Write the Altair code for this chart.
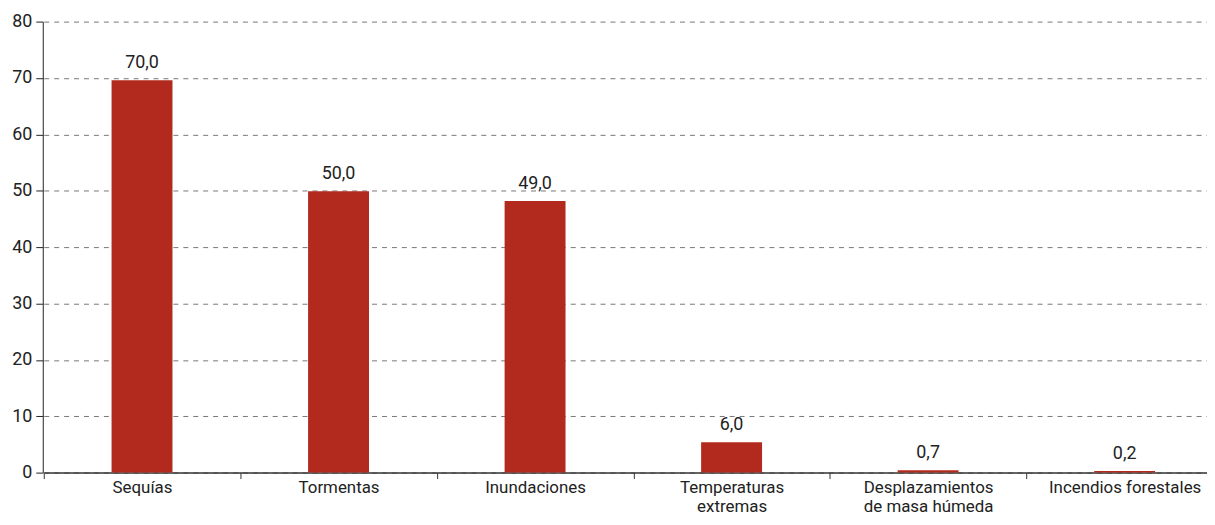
import altair as alt
import pandas as pd

categories = ["Sequías", "Tormentas", "Inundaciones", "Temperaturas\nextremas",
              "Desplazamientos\nde masa húmeda", "Incendios forestales"]
bar_values = [69.6, 49.9, 48.2, 5.4, 0.4, 0.3]
label_values = [70.0, 50.0, 49.0, 6.0, 0.7, 0.2]
y_ticks = [0, 10, 20, 30, 40, 50, 60, 70, 80]

df = pd.DataFrame({"cat": categories, "v": bar_values, "lab": label_values})

FONT = "Roboto"
FS = 17
TXT = "#222222"

x_enc = alt.X("cat:N", sort=categories, title=None,
              scale=alt.Scale(range=[1, 1188], paddingInner=0, paddingOuter=0),
              axis=alt.Axis(tickBand="extent", ticks=True, tickSize=6, tickColor="#333333",
                            domainColor="#333333", domainWidth=1.5, labelAngle=0,
                            labelFont=FONT, labelFontSize=FS, labelColor=TXT,
                            labelPadding=1, labelLineHeight=19,
                            labelExpr="isValid(datum.value) ? split(datum.value, '\\n') : ''",
                            grid=False))
y_enc = alt.Y("v:Q", title=None,
              scale=alt.Scale(domain=[0, 80]),
              axis=alt.Axis(values=y_ticks, grid=True, gridDash=[5, 5], gridColor="#777777",
                            domainColor="#222222", tickColor="#222222", tickSize=7,
                            labelFont=FONT, labelFontSize=18, labelColor=TXT, labelPadding=4))

base = alt.Chart(df)
bars = base.mark_bar(color="#B22A1E", width=alt.RelativeBandSize(0.31)).encode(x=x_enc, y=y_enc)
labels = base.transform_calculate(
    txt="replace(format(datum.lab, '.1f'), '.', ',')"
).mark_text(font=FONT, fontSize=18, color=TXT, baseline="bottom", dy=-8).encode(
    x=alt.X("cat:N", sort=categories), y="v:Q", text="txt:N")

chart = (bars + labels).properties(
    width=1164, height=454,
    autosize=alt.AutoSizeParams(type="none"),
    padding={"left": 35, "top": 12, "right": 8, "bottom": 43},
).configure_view(stroke=None)

chart.save("out.html", embed_options={"renderer": "svg", "actions": False})
